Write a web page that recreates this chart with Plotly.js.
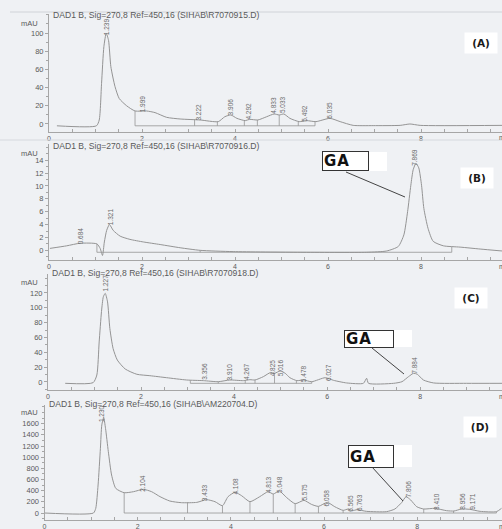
<!DOCTYPE html>
<html><head><meta charset="utf-8">
<script src="https://cdn.plot.ly/plotly-3.0.1.min.js"></script>
<style>html,body{margin:0;padding:0;background:#eff1f4;}</style>
</head><body><div id="chart" style="width:502px;height:529px;"></div>
<script>
// ---------- Panel A ----------
const aTitle = 'DAD1 B, Sig=270,8 Ref=450,16 (SIHAB\\R7070915.D)';
const aT = [0.17,1.02,1.08,1.13,1.18,1.23,1.28,1.33,1.42,1.51,1.67,1.85,2.10,2.28,2.53,2.82,3.25,3.64,3.78,3.91,4.04,4.22,4.31,4.49,4.68,4.84,4.95,5.05,5.18,5.38,5.54,5.74,6.04,6.26,6.54,6.97,7.55,7.76,7.98,9.74];
const aV = [-2.0,-2.0,4.4,44.7,85,99.6,92,63,41,28,20,14.3,14.3,12.5,7.3,5.5,4.4,2.6,8,9.9,6.2,3.7,5.1,4.4,8,11,9.9,11,6.2,2.6,3.7,2.6,6.2,2.6,-1.5,-1.8,-1.5,0,-1.5,-1.5];
const aLab = ['1.239','1.999','3.222','3.906','4.292','4.833','5.033','5.492','6.035'];
const aLabV = [107,22.7,13.5,19,14.3,20.9,20.9,11.7,15.4];
const aDropT = [1.85,3.13,3.62,4.20,4.48,4.95,5.36,5.72];
const aDropV = [14.3,4.9,2.6,3.7,4.4,9.9,2.6,2.6];
const aBase = -2;
const aTicks = [0,20,40,60,80,100];

// ---------- Panel B ----------
const bTitle = 'DAD1 B, Sig=270,8 Ref=450,16 (SIHAB\\R7070916.D)';
const bT = [0.02,0.38,0.67,1.03,1.10,1.15,1.19,1.24,1.30,1.38,1.53,1.74,2.03,2.39,2.82,3.25,3.96,5.40,6.83,7.26,7.51,7.63,7.71,7.78,7.83,7.89,7.95,8.01,8.06,8.15,8.26,8.48,8.84,9.27,9.74];
const bV = [0.3,0.7,1.1,1.0,0.3,-0.8,1.3,3.1,4.0,3.1,2.2,1.7,1.3,0.9,0.4,0,-0.2,-0.3,-0.3,-0.1,0.6,2.4,6.0,10.1,12.5,13.5,12.8,10.1,6.5,3.4,1.4,0.7,0.5,0.2,-0.1];
const bLab = ['0.684','1.321','7.869'];
const bLabV = [2.3,5.2,14.5];
const bDropT = [1.03,3.25,8.66];
const bDropV = [1.0,0,0.6];
const bBase = -0.3;
const bTicks = [0,2,4,6,8,10,12,14];

// ---------- Panel C ----------
const cTitle = 'DAD1 B, Sig=270,8 Ref=450,16 (SIHAB\\R7070918.D)';
const cT = [0.37,0.97,1.05,1.10,1.15,1.19,1.23,1.28,1.33,1.40,1.49,1.66,1.91,2.19,2.55,2.98,3.34,3.66,3.91,4.20,4.34,4.45,4.63,4.79,4.87,4.99,5.10,5.20,5.35,5.49,5.67,5.96,6.14,6.42,6.78,6.85,6.89,7.43,7.61,7.75,7.86,7.94,8.07,8.29,9.00,9.76];
const cV = [-1.8,-0.9,9.4,54,95,115,119.5,108,72,45,29.6,17.5,10.4,8.5,5.8,2.7,1.8,0.4,2.7,1.8,3.1,2.7,7.2,13,11.7,14.8,11.7,5.8,1.8,2.7,0.4,5.8,2.2,-1.3,-1.8,5,-1.8,-1.8,0.4,7.2,11.7,10.4,2.7,-1.3,-1.8,-1.8];
const cLab = ['1.227','3.356','3.910','4.267','4.825','5.016','5.478','6.027','7.884'];
const cLabV = [133,14,14,14,19,19,11.7,12.6,23];
const cDropT = [3.06,3.66,4.24,4.45,4.87,5.34,5.67];
const cDropV = [2.5,0.4,2.0,2.7,11.7,1.8,0.4];
const cBase = -1.8;
const cTicks = [0,20,40,60,80,100,120];

// ---------- Panel D ----------
const dTitle = 'DAD1 B, Sig=270,8 Ref=450,16 (SIHAB\\AM220704.D)';
const dT = [0.01,1.05,1.10,1.15,1.20,1.23,1.27,1.31,1.37,1.44,1.53,1.71,1.91,2.12,2.30,2.48,2.69,2.94,3.27,3.48,3.66,3.82,3.94,4.09,4.23,4.41,4.62,4.80,4.91,5.04,5.20,5.38,5.57,5.73,5.88,6.07,6.23,6.41,6.52,6.61,6.71,6.91,7.34,7.52,7.67,7.76,7.86,7.99,8.14,8.38,8.63,8.79,8.95,9.13,9.35,9.70,9.81];
const dV = [0,0,84,502,1159,1577,1709,1517,1099,681,442,364,382,424,382,293,215,185,191,239,203,131,293,370,311,203,293,382,341,394,275,167,227,155,119,191,113,48,72,42,60,30,24,72,191,293,233,113,72,84,42,36,72,66,30,24,84];
const dLab = ['1.230','2.104','3.433','4.108','4.813','5.048','5.575','6.058','6.565','6.763','7.806','8.410','8.956','9.171'];
const dLabV = [1786,532,364,490,514,514,370,275,173,191,424,203,215,215];
const dDropT = [1.71,3.07,3.82,4.41,4.91,5.38,5.88,6.41,8.14,8.78,9.70];
const dDropV = [364,190,131,203,341,167,119,48,72,36,24];
const dBase = 0;
const dTicks = [0,200,400,600,800,1000,1200,1400,1600];

// ---------- helpers (pixel -> paper) ----------
const W = 502, H = 529;
const P = px => px / W;
const Q = py => 1 - py / H;

const panels = [
  {id:'', title:aTitle, t:aT, v:aV, lab:aLab, labV:aLabV, dT:aDropT, dV:aDropV, base:aBase, ticks:aTicks, minor:10,
   dom:[Q(132),Q(14)], yr:[-8.8,120.9], xl:49, xr:[0,9.74], titleY:15, mauY:24, tag:'(A)', tagX:481, tagY:43},
  {id:'2', title:bTitle, t:bT, v:bV, lab:bLab, labV:bLabV, dT:bDropT, dV:bDropV, base:bBase, ticks:bTicks, minor:1,
   dom:[Q(260),Q(144)], yr:[-1.5,16.5], xl:49, xr:[0,9.74], titleY:146, mauY:153, tag:'(B)', tagX:477, tagY:178,
   ga:{box:[322,368,152,171], ext:[368,387], line:[346,172,405,197]}},
  {id:'3', title:cTitle, t:cT, v:cV, lab:cLab, labV:cLabV, dT:cDropT, dV:cDropV, base:cBase, ticks:cTicks, minor:10,
   dom:[Q(390),Q(274)], yr:[-10.8,145.6], xl:48, xr:[0,9.76], titleY:273, mauY:282, tag:'(C)', tagX:471, tagY:298,
   ga:{box:[344,393,330,347], ext:[393,412], line:[372,348,404,374]}},
  {id:'4', title:dTitle, t:dT, v:dV, lab:dLab, labV:dLabV, dT:dDropT, dV:dDropV, base:dBase, ticks:dTicks, minor:100,
   dom:[Q(520),Q(405)], yr:[-125,1935], xl:44.5, xr:[0,9.82], titleY:404, mauY:412, tag:'(D)', tagX:480, tagY:427,
   ga:{box:[348,393,445,467], ext:[393,412], line:[372,467,403,501]}}
];

const lineCol = '#949494', txtCol = '#5a5a5a', axCol = '#a6a6a6';
const data = [], annotations = [], shapes = [];
const layout = {
  width: W, height: H, margin:{l:0,r:0,t:0,b:0},
  paper_bgcolor:'#eff1f4', plot_bgcolor:'#eff1f4', showlegend:false,
  font:{family:'Liberation Sans, Arial, sans-serif', color:txtCol, size:8}
};

panels.forEach(p => {
  const xa = 'x' + p.id, ya = 'y' + p.id;
  const xk = 'xaxis' + p.id, yk = 'yaxis' + p.id;
  data.push({type:'scatter', mode:'lines', x:p.t, y:p.v, xaxis:xa, yaxis:ya,
    line:{color:lineCol, width:1, shape:'spline', smoothing:0.6}, hoverinfo:'skip'});
  const dx = [], dy = [];
  p.dT.forEach((t,i) => { dx.push(t,t,null); dy.push(p.base,p.dV[i],null); });
  dx.push(p.dT[0], p.dT[p.dT.length-1]); dy.push(p.base, p.base);
  data.push({type:'scatter', mode:'lines', x:dx, y:dy, xaxis:xa, yaxis:ya,
    line:{color:lineCol, width:0.8}, hoverinfo:'skip'});
  layout[xk] = {domain:[P(p.xl),1], range:p.xr, anchor:ya, showgrid:false, zeroline:false,
    showline:true, linecolor:axCol, linewidth:1, ticks:'inside', ticklen:3, tickcolor:axCol,
    tickvals:[0,2,4,6,8], tickfont:{size:7, color:txtCol},
    minor:{ticks:'inside', ticklen:3, dtick:0.5, tick0:0, tickcolor:axCol}};
  layout[yk] = {domain:p.dom, range:p.yr, anchor:xa, showgrid:false, zeroline:false,
    showline:true, linecolor:axCol, linewidth:1, ticks:'outside', ticklen:3, tickcolor:axCol,
    tickvals:p.ticks, tickfont:{size:7.5, color:txtCol},
    minor:{ticks:'outside', ticklen:2, dtick:p.minor, tick0:0, tickcolor:axCol}};
  p.lab.forEach((s,i) => annotations.push({xref:xa, yref:ya, x:parseFloat(s), y:p.labV[i], text:s,
    textangle:-90, showarrow:false, xanchor:'center', yanchor:'middle',
    font:{size:6.5, color:'#6a6a6a', family:'Liberation Sans Narrow, Liberation Sans, sans-serif'}}));
  annotations.push({xref:'paper', yref:'paper', x:P(p.xl+2), y:Q(p.titleY), text:p.title, showarrow:false,
    xanchor:'left', yanchor:'middle', font:{size:8.6, color:txtCol}});
  annotations.push({xref:'paper', yref:'paper', x:P(40), y:Q(p.mauY), text:'mAU', showarrow:false,
    xanchor:'right', yanchor:'middle', font:{size:7.5, color:txtCol}});
  annotations.push({xref:'paper', yref:'paper', x:P(497), y:Q(H*(1-p.dom[0])+6), text:'min', showarrow:false,
    xanchor:'left', yanchor:'middle', font:{size:7, color:txtCol}});
  annotations.push({xref:'paper', yref:'paper', x:P(p.tagX), y:Q(p.tagY), text:'<b>'+p.tag+'</b>', showarrow:false,
    xanchor:'center', yanchor:'middle', bgcolor:'#ffffff', width:30, height:18,
    font:{size:10.5, color:'#1a1a1a', family:'DejaVu Sans, sans-serif'}});
  if (p.ga) {
    const g = p.ga;
    shapes.push({type:'rect', xref:'paper', yref:'paper', x0:P(g.ext[0]), x1:P(g.ext[1]),
      y0:Q(g.box[3]), y1:Q(g.box[2]), fillcolor:'#ffffff', line:{width:0}, layer:'above'});
    shapes.push({type:'line', xref:'paper', yref:'paper', x0:P(g.line[0]), y0:Q(g.line[1]),
      x1:P(g.line[2]), y1:Q(g.line[3]), line:{color:'#444', width:1}, layer:'above'});
    annotations.push({xref:'paper', yref:'paper', x:P((g.box[0]+g.box[1])/2), y:Q((g.box[2]+g.box[3])/2),
      text:'<b><span style="letter-spacing:1px">GA</span></b>', showarrow:false, xanchor:'center', yanchor:'middle',
      width:g.box[1]-g.box[0]-3, height:g.box[3]-g.box[2]-3, align:'left', valign:'middle',
      bgcolor:'#ffffff', bordercolor:'#333', borderwidth:1, borderpad:1,
      font:{size:15, color:'#111', family:'DejaVu Sans, sans-serif'}});
  }
});

shapes.push({type:'line', xref:'paper', yref:'paper', x0:P(10), x1:1, y0:Q(12), y1:Q(12), line:{color:'#d0d3d8', width:1}});
shapes.push({type:'line', xref:'paper', yref:'paper', x0:0, x1:1, y0:Q(140), y1:Q(140), line:{color:'#d6d9de', width:1}});

layout.annotations = annotations;
layout.shapes = shapes;
Plotly.newPlot('chart', data, layout, {staticPlot:true, displayModeBar:false});
</script></body></html>
